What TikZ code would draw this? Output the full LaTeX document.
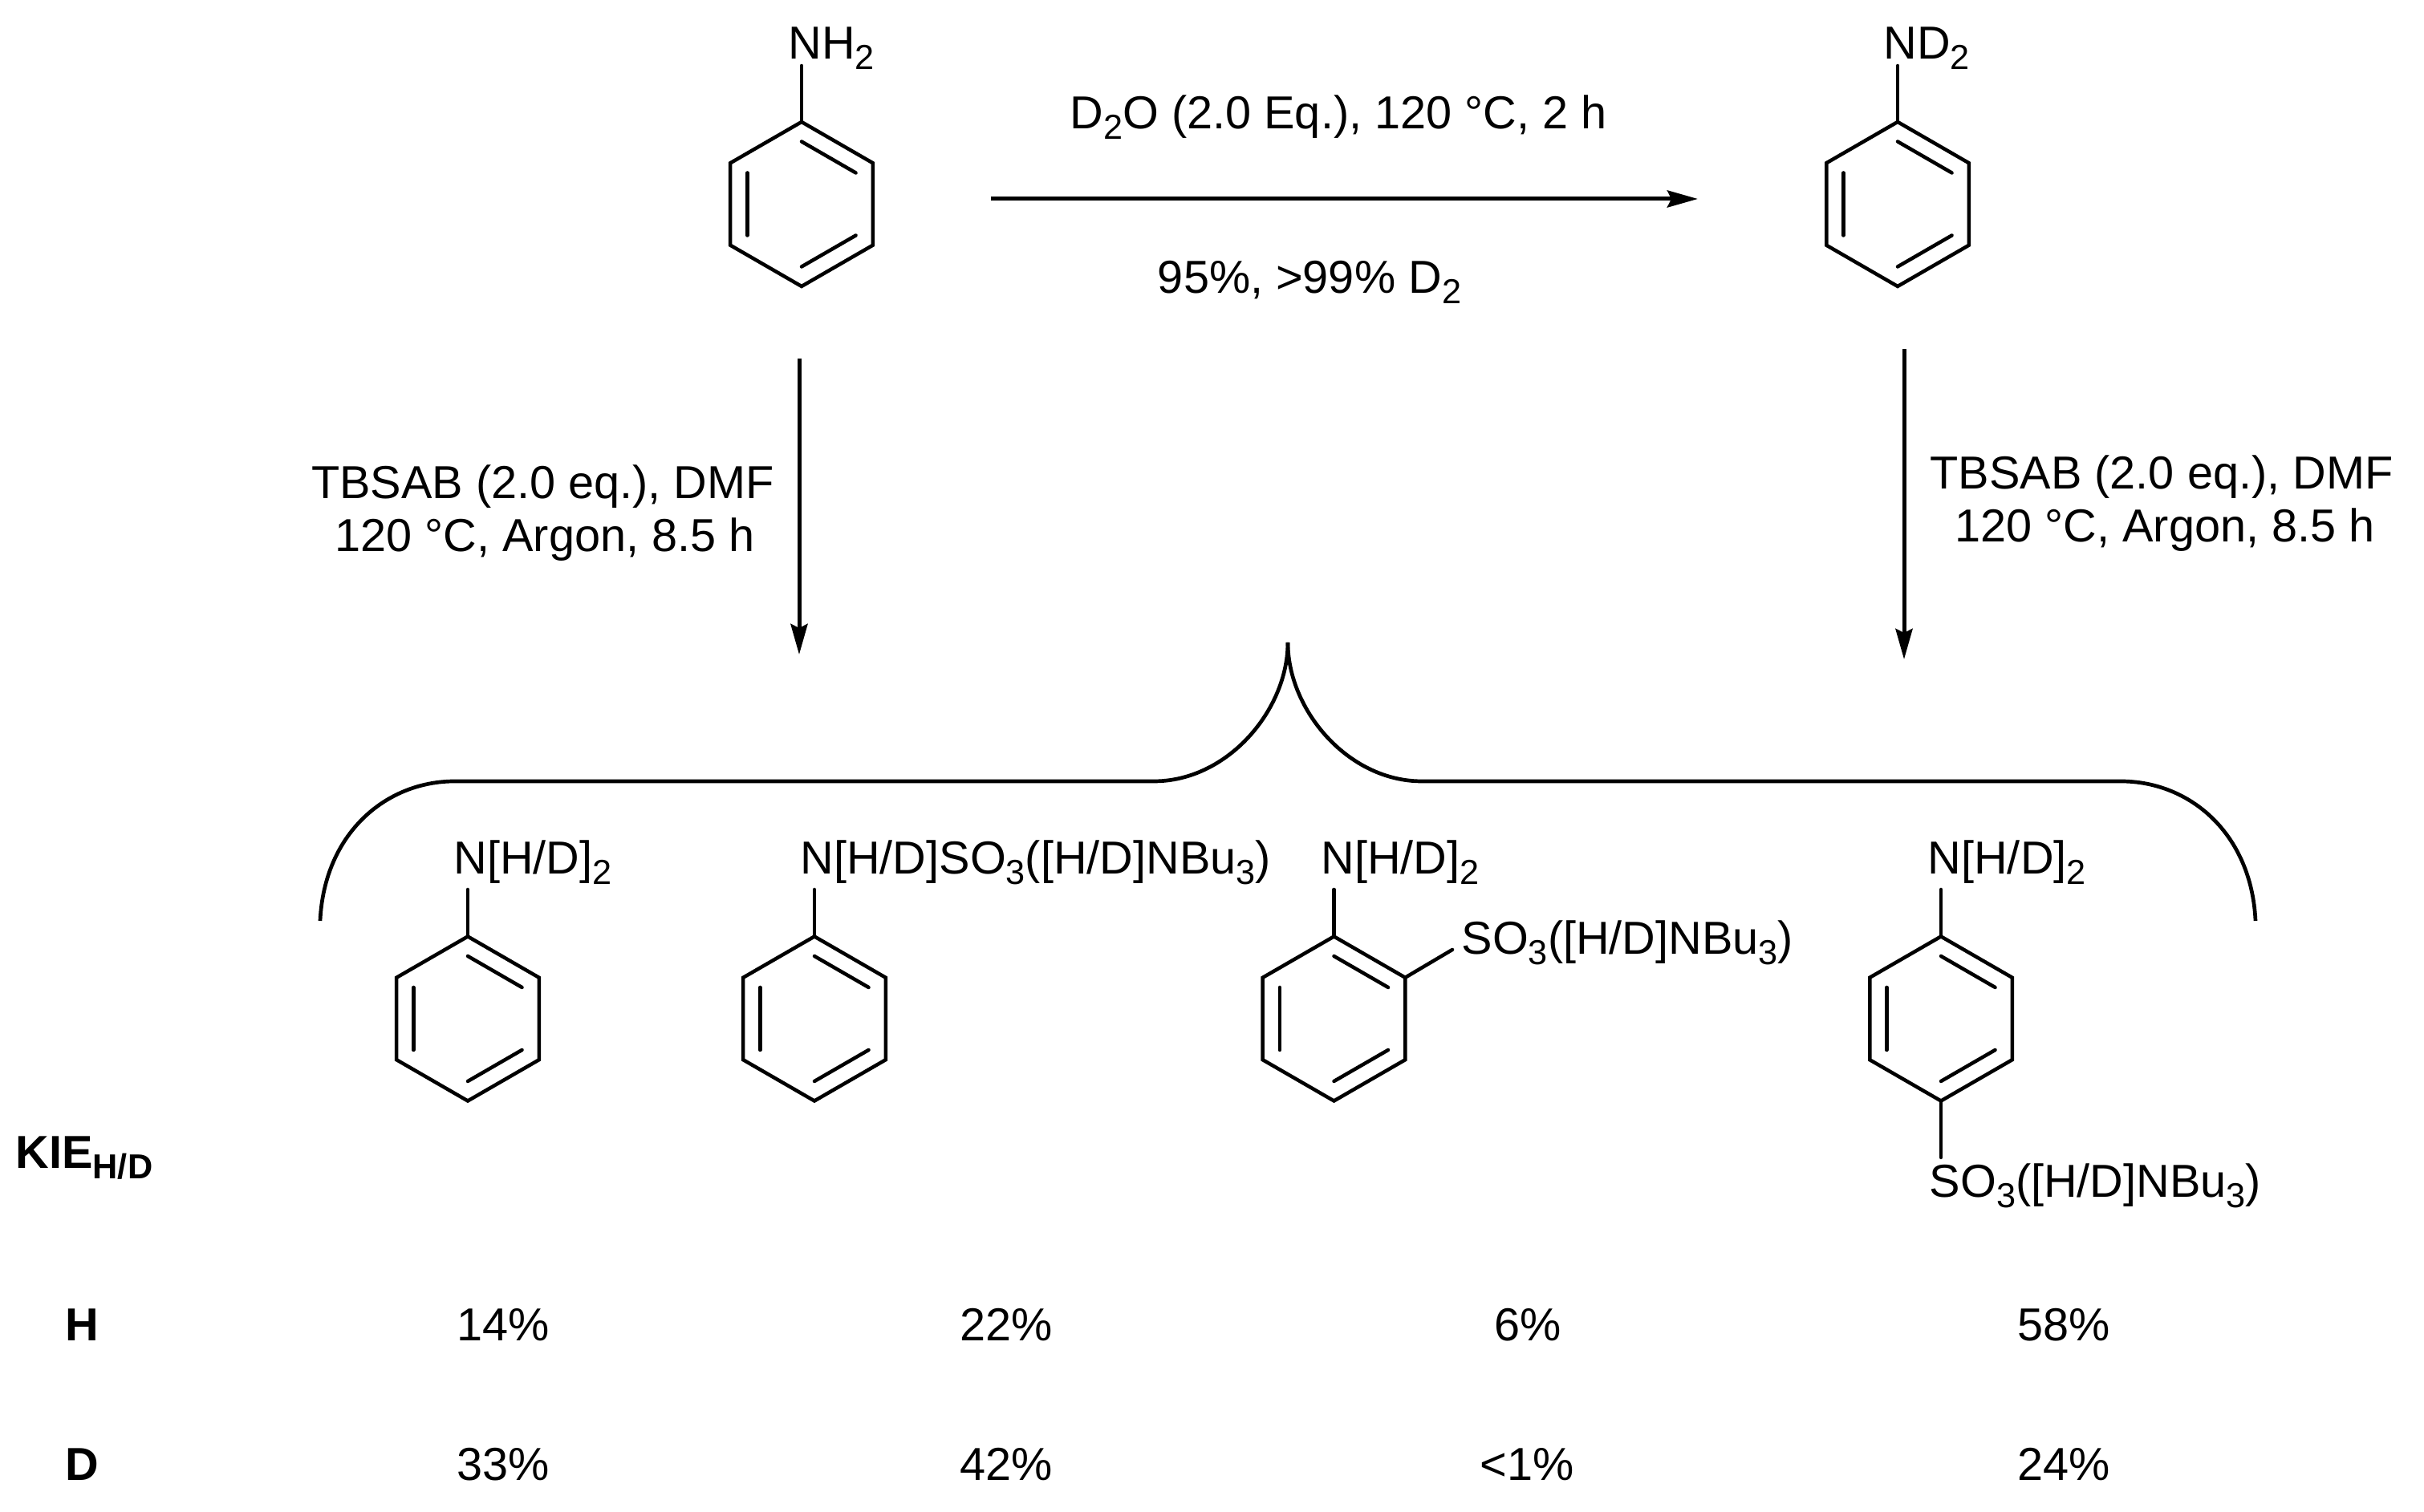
\documentclass[tikz,border=0pt]{standalone}
\usepackage{fontspec}
\setmainfont{Liberation Sans}
\usetikzlibrary{arrows.meta}

\tikzset{
  bond/.style={line width=0.045cm, line cap=round},
  curlyline/.style={line width=0.047cm},
  rxnarrow/.style={line width=0.05cm, -{Stealth[length=0.38cm, width=0.21cm, inset=0.05cm]}},
  chemtext/.style={inner sep=0pt, anchor=base, font=\fontsize{16.4}{20}\selectfont},
  chemleft/.style={chemtext, anchor=base west},
  tablehead/.style={chemtext, font=\fontsize{16.4}{20}\selectfont\bfseries},
}

\newcommand{\chemsub}[1]{\raisebox{-3.6pt}{\fontsize{12.3}{12.3}\selectfont #1}}

\newcommand{\benzene}[3]{
  \coordinate (#1) at (#2,#3);
  \draw[bond] (#1) +(90:1.025) -- +(150:1.025) -- +(210:1.025) -- +(270:1.025) -- +(330:1.025) -- +(30:1.025) -- cycle;
  \draw[bond] (#1) +(150:0.78) -- +(210:0.78);
  \draw[bond] (#1) +(90:0.78) -- +(30:0.78);
  \draw[bond] (#1) +(270:0.78) -- +(330:0.78);
  \path (#1) +(90:1.025) coordinate (#1top) +(270:1.025) coordinate (#1bot) +(30:1.025) coordinate (#1ur);
}

\begin{document}
\begin{tikzpicture}
\useasboundingbox (0,0) rectangle (30.21,18.85);

\benzene{anilineH}{9.99}{16.305} % top left
\benzene{anilineD}{23.65}{16.305} % top right
\benzene{prodStart}{5.83}{6.15} % product.1
\benzene{prodSulfam}{10.15}{6.15} % product.2
\benzene{prodOrtho}{16.625}{6.15} % product.3
\benzene{prodPara}{24.19}{6.15} % product.4

\node[chemleft] (nhTwo) at (9.82,18.11) {NH\chemsub{2}};
\node[chemleft] (ndTwo) at (23.47,18.11) {ND\chemsub{2}};
\node[chemleft] (startN) at (5.65,7.95) {N[H/D]\chemsub{2}};
\node[chemleft] (sulfamN) at (9.97,7.95) {N[H/D]SO\chemsub{3}([H/D]NBu\chemsub{3})};
\node[chemleft] (orthoN) at (16.46,7.95) {N[H/D]\chemsub{2}};
\node[chemleft] (orthoS) at (18.21,6.95) {SO\chemsub{3}([H/D]NBu\chemsub{3})};
\node[chemleft] (paraN) at (24.02,7.95) {N[H/D]\chemsub{2}};
\node[chemleft] (paraS) at (24.04,3.92) {SO\chemsub{3}([H/D]NBu\chemsub{3})};

\coordinate (nhEnd) at (9.99,18.03);
\coordinate (ndEnd) at (23.65,18.03);
\coordinate (startEnd) at (5.83,7.76);
\coordinate (sulfamEnd) at (10.15,7.76);
\coordinate (orthoEnd) at (16.625,7.76);
\coordinate (orthoSEnd) at (18.10,7.01);
\coordinate (paraEnd) at (24.19,7.76);
\coordinate (paraSEnd) at (24.19,4.42);
\draw[bond] (anilineHtop) -- (nhEnd);
\draw[bond] (anilineDtop) -- (ndEnd);
\draw[bond] (prodStarttop) -- (startEnd);
\draw[bond] (prodSulfamtop) -- (sulfamEnd);
\draw[bond] (prodOrthotop) -- (orthoEnd);
\draw[bond] (prodOrthour) -- (orthoSEnd);
\draw[bond] (prodParatop) -- (paraEnd);
\draw[bond] (prodParabot) -- (paraSEnd);

\coordinate (exchStart) at (12.35,16.37);
\coordinate (exchEnd) at (21.16,16.37);
\coordinate (leftStart) at (9.96,14.38);
\coordinate (leftEnd) at (9.96,10.69);
\coordinate (rightStart) at (23.73,14.50);
\coordinate (rightEnd) at (23.73,10.63);
\draw[rxnarrow] (exchStart) -- (exchEnd);
\draw[rxnarrow] (leftStart) -- (leftEnd);
\draw[rxnarrow] (rightStart) -- (rightEnd);

\node[chemtext] (exchTop) at (16.68,17.24) {D\chemsub{2}O (2.0 Eq.), 120 °C, 2 h};
\node[chemtext] (exchBot) at (16.32,15.19) {95\%, >99\% D\chemsub{2}};
\node[chemtext] (leftOne) at (6.765,12.63) {TBSAB (2.0 eq.), DMF};
\node[chemtext] (leftTwo) at (6.79,11.97) {120 °C, Argon, 8.5 h};
\node[chemtext] (rightOne) at (26.94,12.75) {TBSAB (2.0 eq.), DMF};
\node[chemtext] (rightTwo) at (26.98,12.09) {120 °C, Argon, 8.5 h};

\coordinate (braceLeft) at (3.99,7.37);
\coordinate (braceRight) at (28.11,7.37);
\coordinate (bracePeak) at (16.05,10.84);
\draw[curlyline] (braceLeft) .. controls (4.04,8.45) and (4.80,9.11) .. (5.67,9.11) -- (14.38,9.11) .. controls (15.30,9.11) and (16.05,10.00) .. (bracePeak); % left half
\draw[curlyline] (braceRight) .. controls (28.06,8.45) and (27.30,9.11) .. (26.43,9.11) -- (17.72,9.11) .. controls (16.80,9.11) and (16.05,10.00) .. (bracePeak); % right half

\node[tablehead, anchor=base west] (kie) at (0.19,4.28) {KIE\chemsub{H/D}};
\node[tablehead] (rowH) at (1.02,2.13) {H};
\node[tablehead] (rowD) at (1.02,0.39) {D};

\node[chemtext] (hOne) at (6.27,2.13) {14\%};
\node[chemtext] (hTwo) at (12.54,2.13) {22\%};
\node[chemtext] (hThree) at (19.04,2.13) {6\%};
\node[chemtext] (hFour) at (25.72,2.13) {58\%};
\node[chemtext] (dOne) at (6.27,0.39) {33\%};
\node[chemtext] (dTwo) at (12.54,0.39) {42\%};
\node[chemtext] (dThree) at (19.03,0.39) {<1\%};
\node[chemtext] (dFour) at (25.72,0.39) {24\%};

\end{tikzpicture}
\end{document}
